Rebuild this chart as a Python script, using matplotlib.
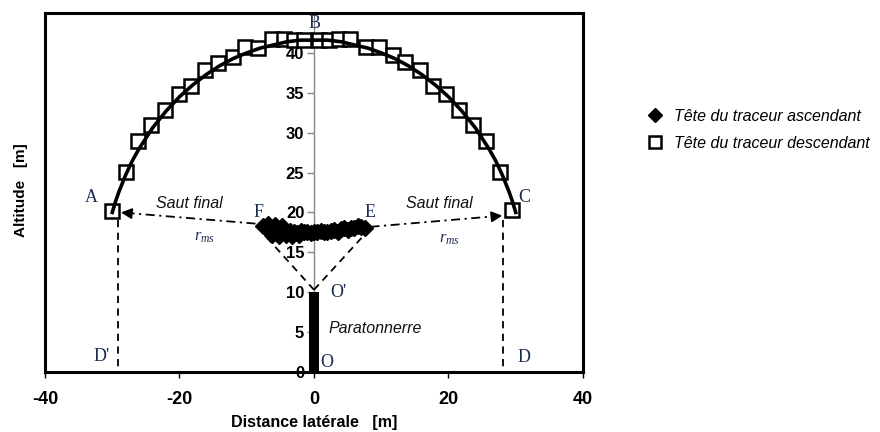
import matplotlib
matplotlib.use("Agg")
import matplotlib.pyplot as plt
from matplotlib.lines import Line2D

plt.rcParams["mathtext.fontset"] = "custom"
plt.rcParams["mathtext.it"] = "Liberation Serif:italic"
plt.rcParams["mathtext.rm"] = "Liberation Serif"

# Descending leader head positions (squares)
desc_x = [-30.1, -28.0, -26.2, -24.2, -22.1, -20.0, -18.3, -16.2, -14.2, -12.1, -10.3, -8.3,
          -6.2, -4.4, -3.0, -1.5, 0.7, 2.2, 3.7, 5.4, 7.7, 9.6, 11.7, 13.6, 15.7, 17.7,
          19.7, 21.6, 23.6, 25.6, 27.7, 29.5]
desc_y = [20.2, 25.1, 29.0, 30.9, 32.9, 34.9, 35.8, 37.9, 38.7, 39.5, 40.8, 40.6,
          41.7, 41.7, 41.6, 41.6, 41.6, 41.6, 41.7, 41.7, 40.8, 40.8, 39.7, 38.8, 37.9, 35.8,
          34.9, 32.9, 30.9, 29.0, 25.1, 20.3]

# Smooth arc drawn through the descending leader path
arc_x = [-30.0, -29.5, -29.0, -28.0, -27.0, -26.0, -24.0, -22.0, -20.0, -18.0, -16.0, -14.0,
         -12.0, -10.0, -8.0, -6.0, -4.0, -2.0, 0.0, 2.0, 4.0, 6.0, 8.0, 10.0, 12.0, 14.0,
         16.0, 18.0, 20.0, 22.0, 24.0, 26.0, 27.0, 28.0, 29.0, 29.5, 30.0]
arc_y = [20.0, 21.4, 22.6, 24.7, 26.5, 28.0, 30.6, 32.7, 34.5, 36.0, 37.3, 38.4,
         39.3, 40.0, 40.6, 41.0, 41.4, 41.6, 41.6, 41.6, 41.4, 41.0, 40.6, 40.0, 39.3, 38.4,
         37.3, 36.0, 34.5, 32.7, 30.6, 28.0, 26.5, 24.7, 22.6, 21.4, 20.0]

# Ascending leader head positions (diamonds)
asc_x = [-7.6, -7.0, -6.5, -6.0, -5.5, -5.0, -4.5, -4.0, -3.5, -3.0, -2.5, -2.0, -1.5, -1.0,
         -0.5, 0.0, 0.5, 1.0, 1.5, 2.0, 2.5, 3.0, 3.5, 4.0, 4.5, 5.0, 5.5, 6.0, 6.5, 7.0, 7.6,
         -6.2, -5.2, -4.2, -3.2, -2.2, -6.8, -5.8, -4.8]
asc_y = [18.3, 18.0, 17.9, 17.7, 17.8, 17.6, 17.9, 17.5, 17.7, 17.6, 17.4, 17.7, 17.5, 17.6,
         17.4, 17.6, 17.5, 17.7, 17.6, 17.5, 17.7, 17.8, 17.6, 17.9, 18.0, 17.8, 18.1, 18.0, 18.3, 18.2, 18.1,
         17.2, 17.1, 17.2, 17.1, 17.2, 18.5, 18.4, 18.3]

# Lightning rod
rod_x = 0.0
rod_height = 10.0
rod_width = 1.5

# Annotation points
point_O_prime = (0.0, 10.0)
point_F = (-7.6, 18.2)
point_E = (7.6, 18.1)
jump_left = ((-8.7, 18.6), (-28.7, 20.0))
jump_right = ((8.4, 18.2), (28.0, 19.6))
drop_left_x = -29.2
drop_right_x = 28.1

letters = [("A", -33.1, 21.9), ("B", 0.1, 43.7), ("C", 31.3, 21.9), ("D'", -31.6, 2.0),
           ("D", 31.3, 1.8), ("E", 8.3, 20.0), ("F", -8.3, 20.0), ("O", 1.9, 1.2),
           ("O'", 3.6, 10.0)]

x_ticks = [-40, -20, 0, 20, 40]
y_ticks = [0, 5, 10, 15, 20, 25, 30, 35, 40]

sans = "Liberation Sans"
serif = "Liberation Serif"
navy = "#1c2c52"

fig = plt.figure(figsize=(8.8, 4.32), dpi=100)
ax = fig.add_axes([0.0511, 0.1389, 0.6114, 0.831])
ax.set_xlim(-40, 40)
ax.set_ylim(0, 45)

# dashed construction lines
ax.plot([point_O_prime[0], point_F[0]], [point_O_prime[1] + 0.3, point_F[1] - 0.8],
        ls=(0, (4, 3)), color="black", lw=1.3, zorder=2)
ax.plot([point_O_prime[0], point_E[0]], [point_O_prime[1] + 0.3, point_E[1] - 0.8],
        ls=(0, (4, 3)), color="black", lw=1.3, zorder=2)
ax.plot([drop_left_x, drop_left_x], [19.0, 0.3], ls=(0, (4, 3)), color="black", lw=1.3)
ax.plot([drop_right_x, drop_right_x], [19.0, 0.3], ls=(0, (4, 3)), color="black", lw=1.3)

# final jump arrows (dash-dot)
for (start, tip) in [jump_left, jump_right]:
    ax.plot([start[0], tip[0]], [start[1], tip[1]], ls=(0, (5, 2.5, 1.2, 2.5)),
            color="black", lw=1.3, zorder=2)
    back = (tip[0] - 0.8 * (1 if tip[0] > start[0] else -1), tip[1] - 0.05 * (tip[1] - start[1]))
    ax.annotate("", xy=tip, xytext=back,
                arrowprops=dict(arrowstyle="-|>", color="black", lw=1.3,
                                mutation_scale=16, shrinkA=0, shrinkB=0))

# lightning rod
ax.bar([rod_x], [rod_height], width=rod_width, color="black", zorder=3)

# descending leader arc and squares
ax.plot(desc_x, desc_y, ls="none", marker="s", ms=9.5, mfc="white", mec="black",
        mew=1.8, zorder=3)
ax.plot(arc_x, arc_y, color="black", lw=2.6, zorder=4)

# ascending leader heads
ax.plot(asc_x, asc_y, ls="none", marker="D", ms=8.5, color="black", zorder=5)

# texts
ax.text(-18.5, 21.1, "Saut final", fontsize=11.5, style="italic", family=sans,
        ha="center", va="center", color="#111111")
ax.text(18.7, 21.1, "Saut final", fontsize=11.5, style="italic", family=sans,
        ha="center", va="center", color="#111111")
ax.text(-16.3, 17.0, r"$r_{ms}$", fontsize=12, ha="center", va="center", color=navy)
ax.text(20.2, 16.8, r"$r_{ms}$", fontsize=12, ha="center", va="center", color=navy)
ax.text(2.2, 5.5, "Paratonnerre", fontsize=11.5, style="italic", family=sans,
        ha="left", va="center", color="#111111")
for name, lx, ly in letters:
    ax.text(lx, ly, name, fontsize=13, family=serif, ha="center", va="center", color=navy)

# frame
for side in ["top", "bottom", "left", "right"]:
    ax.spines[side].set_linewidth(2.2)
    ax.spines[side].set_color("black")
ax.set_yticks([])
ax.set_xticks(x_ticks)
ax.set_xticklabels([str(v) for v in x_ticks], fontsize=13, fontweight="bold", family=sans)
ax.tick_params(axis="x", direction="out", length=4, width=1, pad=10)
ax.set_xlabel("Distance latérale   [m]", fontsize=11.5, fontweight="bold", family=sans,
              labelpad=5)

# y axis drawn at x = 0
yax = ax.secondary_yaxis(0.5)
for side in ["left", "right"]:
    yax.spines[side].set_color("#888888")
    yax.spines[side].set_linewidth(1.0)
yax.yaxis.set_ticks_position("left")
yax.set_yticks(y_ticks)
yax.set_yticklabels([str(v) for v in y_ticks], fontsize=12, fontweight="bold", family=sans)
yax.tick_params(axis="y", direction="out", length=5, width=1, color="#888888", pad=2,
                left=True, right=False, labelleft=True, labelright=False)

fig.text(0.024, 0.56, "Altitude   [m]", rotation=90, fontsize=11, fontweight="bold",
         family=sans, ha="center", va="center")

# legend
handles = [Line2D([], [], ls="none", marker="D", ms=7, color="black"),
           Line2D([], [], ls="none", marker="s", ms=8, mfc="white", mec="black", mew=1.8)]
fig.legend(handles, ["Tête du traceur ascendant", "Tête du traceur descendant"],
           loc="upper left", bbox_to_anchor=(0.733, 0.748), frameon=False,
           borderpad=0, borderaxespad=0, labelspacing=0.75, handletextpad=0.6,
           handlelength=1.2, prop={"family": sans, "style": "italic", "size": 11.5})

fig.savefig("out.png", dpi=100)
